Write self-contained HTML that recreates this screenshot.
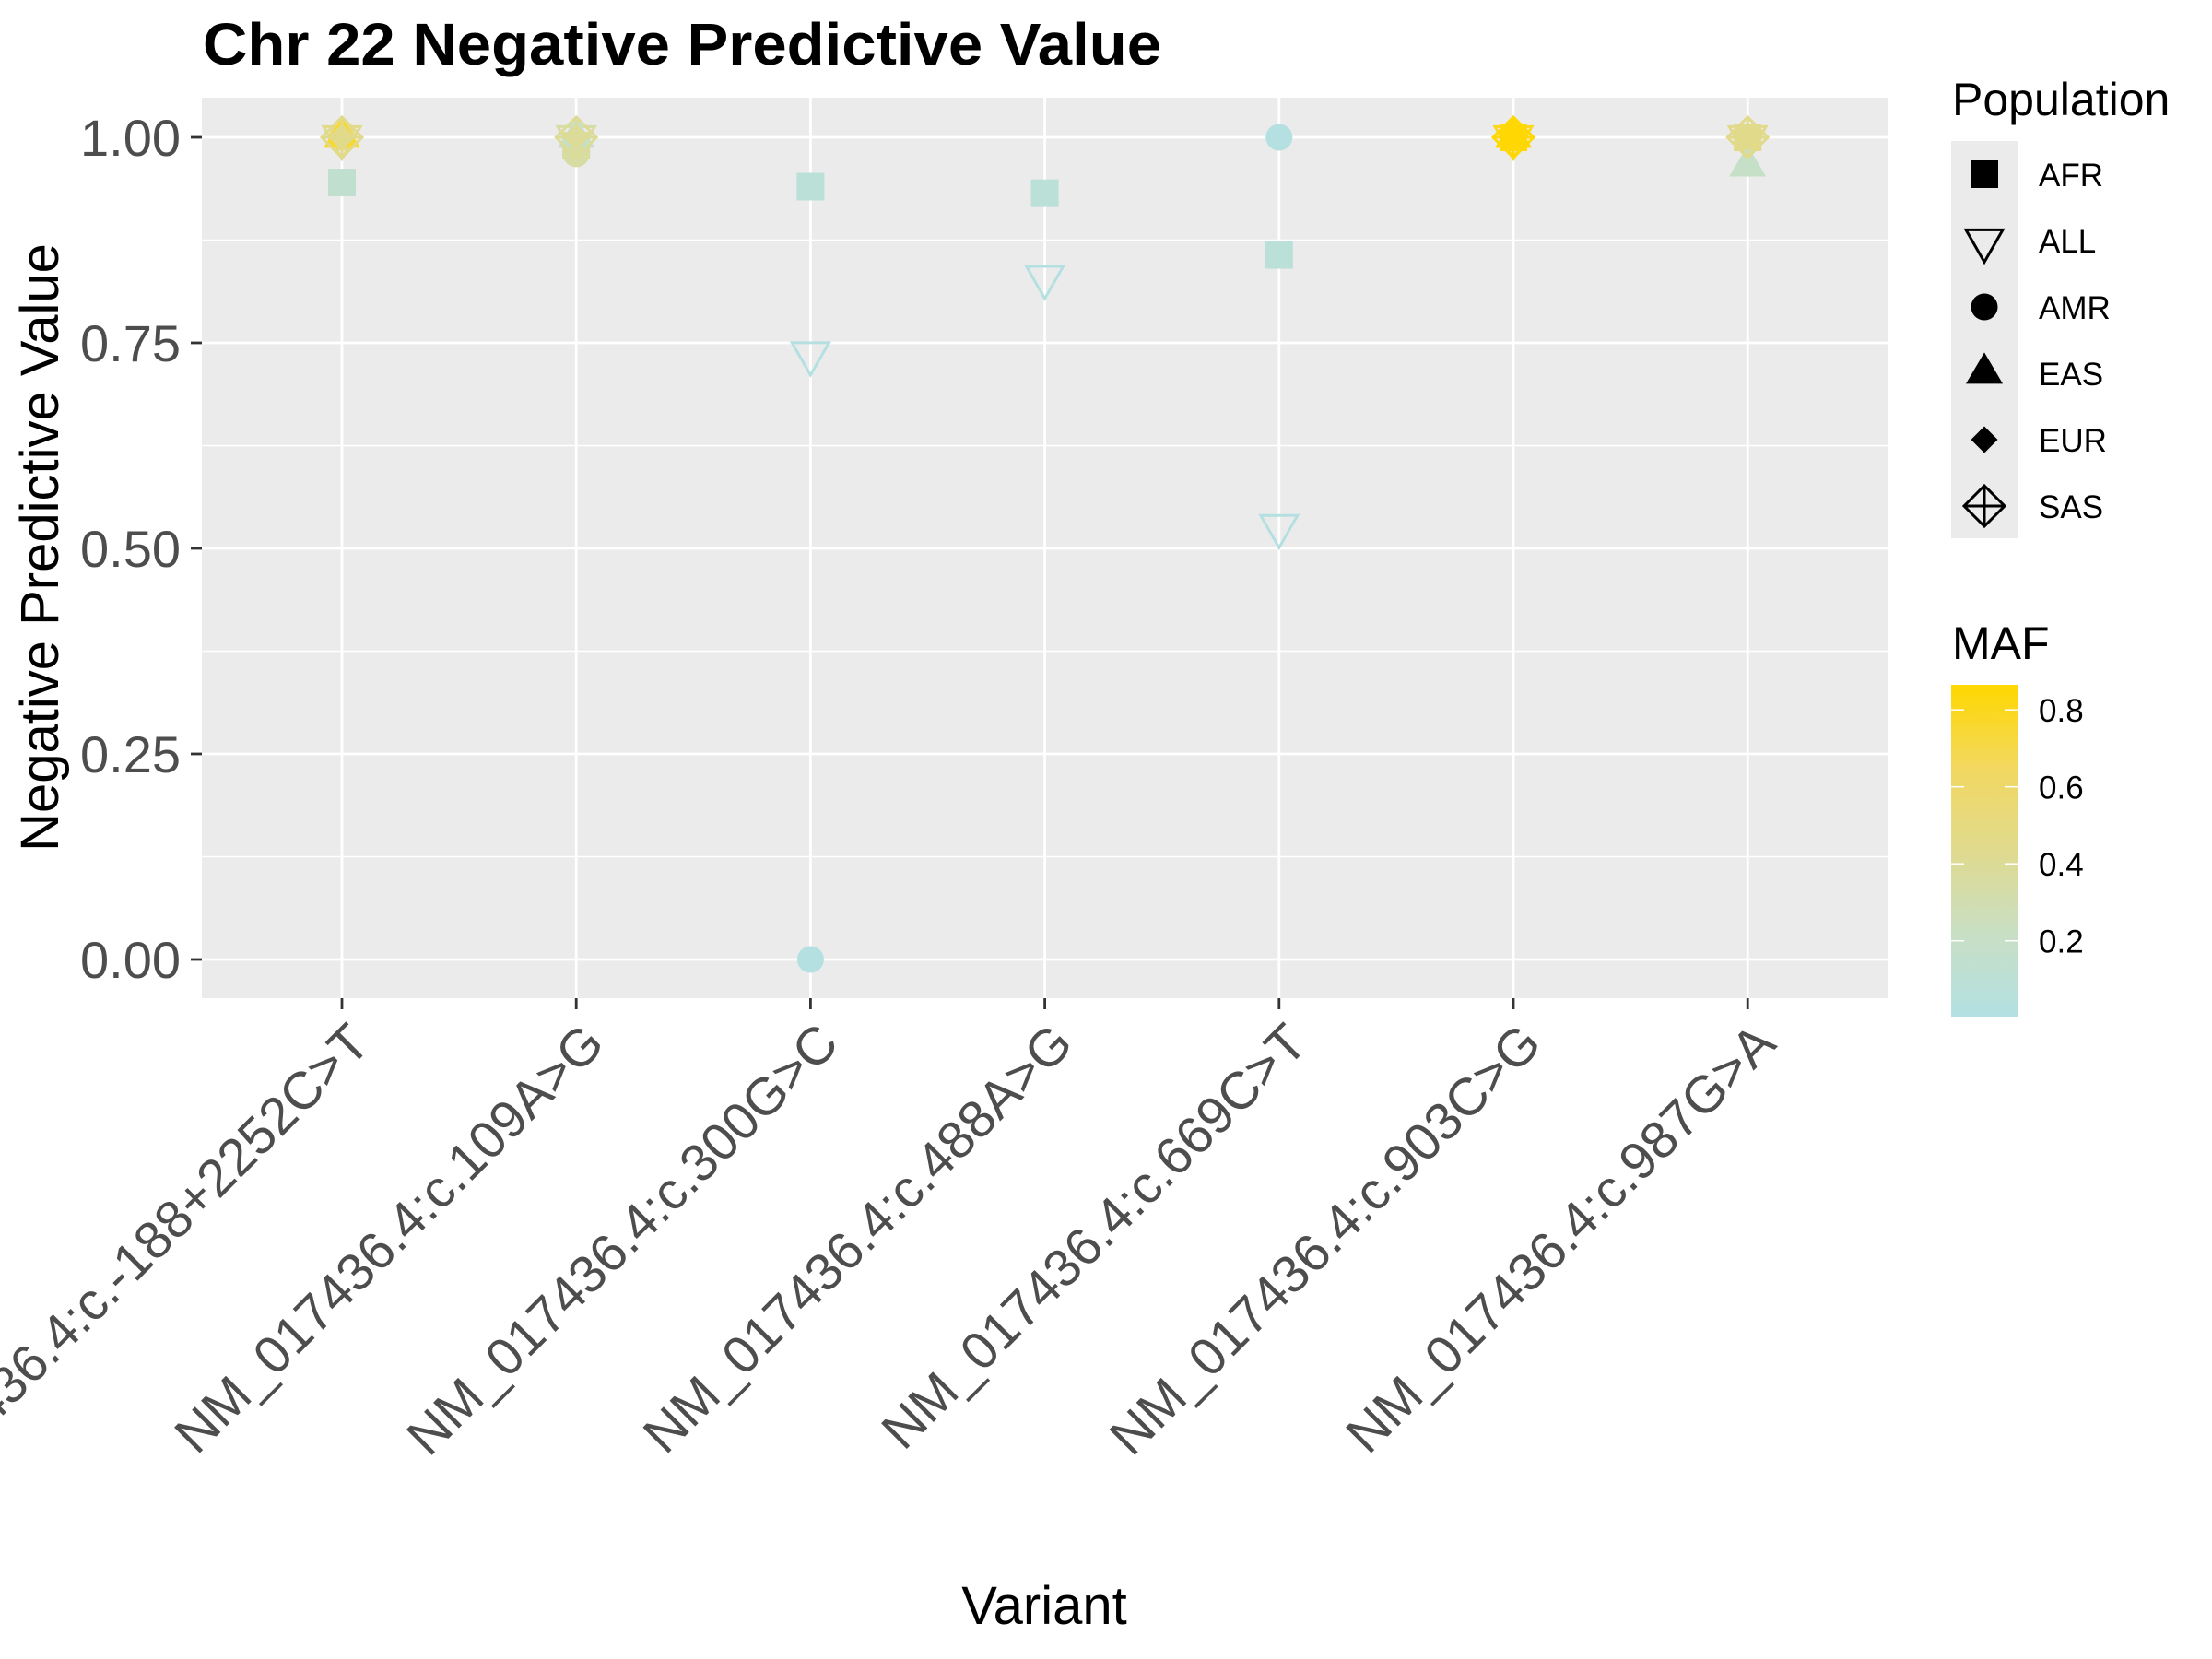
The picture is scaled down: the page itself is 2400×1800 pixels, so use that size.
<!DOCTYPE html>
<html><head><meta charset="utf-8"><style>
html,body{margin:0;padding:0;background:#fff;}
svg{display:block;font-family:"Liberation Sans",sans-serif;}
</style></head><body>
<svg id="chart" width="2400" height="1800" viewBox="0 0 2400 1800" xmlns="http://www.w3.org/2000/svg">
<defs>
<linearGradient id="mafgrad" x1="0" y1="1" x2="0" y2="0">
<stop offset="0" stop-color="#B3E0E3"/>
<stop offset="0.25" stop-color="#C8DFC4"/>
<stop offset="0.5" stop-color="#E0DA8E"/>
<stop offset="0.75" stop-color="#F2D860"/>
<stop offset="1" stop-color="#FFD700"/>
</linearGradient>
</defs>
<text x="220" y="70" font-size="64" font-weight="bold" fill="#000" textLength="1040" lengthAdjust="spacingAndGlyphs">Chr 22 Negative Predictive Value</text>
<rect x="219" y="106" width="1829" height="977" fill="#EBEBEB"/>
<g id="grid"></g>
<g id="yaxis"></g>
<g id="xaxis"></g>
<g id="points"></g>
<text transform="translate(63,594) rotate(-90)" text-anchor="middle" font-size="58" fill="#000">Negative Predictive Value</text>
<text x="1133" y="1762" text-anchor="middle" font-size="58" fill="#000">Variant</text>
<g id="legend">
<text x="2118" y="125" font-size="50" fill="#000">Population</text>
<rect x="2117" y="153" width="72" height="431" fill="#EBEBEB"/>
</g>
<g id="maflegend">
<text x="2118" y="715" font-size="50" fill="#000">MAF</text>
<rect x="2117" y="743" width="72" height="360" fill="url(#mafgrad)"/>
</g>
</svg>
<script>
const categories = ["NM_017436.4:c.-188+2252C>T","NM_017436.4:c.109A>G","NM_017436.4:c.300G>C","NM_017436.4:c.488A>G","NM_017436.4:c.669C>T","NM_017436.4:c.903C>G","NM_017436.4:c.987G>A"];
const populations = ["AFR","ALL","AMR","EAS","EUR","SAS"];
const yTicks = [0,0.25,0.5,0.75,1];
const yTickLabels = ["0.00","0.25","0.50","0.75","1.00"];
const npvAFR = [0.945,0.99,0.94,0.932,0.857,1,1];
const npvALL = [1,1,0.737,0.83,0.527,1,1];
const npvAMR = [1,0.98,0,null,1,1,1];
const npvEAS = [1,1,null,null,null,1,0.965];
const npvEUR = [1,1,null,null,null,1,1];
const npvSAS = [1,1,null,null,null,1,1];
const mafAFR = [0.15,0.45,0.08,0.08,0.08,0.86,0.45];
const mafALL = [0.45,0.35,0.02,0.02,0.02,0.8,0.45];
const mafAMR = [0.5,0.35,0.01,null,0.01,0.86,0.45];
const mafEAS = [0.75,0.2,null,null,null,0.86,0.2];
const mafEUR = [0.45,0.4,null,null,null,0.86,0.45];
const mafSAS = [0.45,0.4,null,null,null,0.86,0.45];
const mafTicks = [0.2,0.4,0.6,0.8];
const mafTickLabels = ["0.2","0.4","0.6","0.8"];

const NS="http://www.w3.org/2000/svg";
const P={l:219,r:2048,t:106,b:1083};
function xPos(i){return 371+i*254.2;}
function yPos(v){return 1041-892*v;}
const mafMin=0.003,mafMax=0.865;
function mafY(m){return 1103-(m-mafMin)/(mafMax-mafMin)*360;}
const stops=[[0,[179,224,227]],[0.25,[200,223,196]],[0.5,[224,218,142]],[0.75,[242,216,96]],[1,[255,215,0]]];
function mafColor(m){let t=(m-mafMin)/(mafMax-mafMin);t=Math.max(0,Math.min(1,t));
 for(let i=1;i<stops.length;i++){if(t<=stops[i][0]){const a=stops[i-1],b=stops[i];const f=(t-a[0])/(b[0]-a[0]);
 const c=a[1].map((v,k)=>Math.round(v+(b[1][k]-v)*f));return `rgb(${c[0]},${c[1]},${c[2]})`;}}return "rgb(255,215,0)";}
function mk(tag,attrs,parent){const e=document.createElementNS(NS,tag);for(const k in attrs)e.setAttribute(k,attrs[k]);parent.appendChild(e);return e;}

const grid=document.getElementById('grid');
for(let i=0;i<yTicks.length-1;i++){const v=(yTicks[i]+yTicks[i+1])/2;
 const l=mk('line',{x1:P.l,x2:P.r,y1:yPos(v),y2:yPos(v),stroke:'#fff','stroke-width':1.4},grid);
 
 }
yTicks.forEach((v)=>{const l=mk('line',{x1:P.l,x2:P.r,y1:yPos(v),y2:yPos(v),stroke:'#fff','stroke-width':2.8},grid);
 
 });
categories.forEach((c,i)=>{const l=mk('line',{x1:xPos(i),x2:xPos(i),y1:P.t,y2:P.b,stroke:'#fff','stroke-width':2.8},grid);
 
 });

const ya=document.getElementById('yaxis');
yTicks.forEach((v,i)=>{const y=yPos(v);
 const t=mk('line',{x1:207,x2:219,y1:y,y2:y,stroke:'#333','stroke-width':2.8},ya);
 
 
 const tx=mk('text',{x:196,y:y+20,'text-anchor':'end','font-size':56,fill:'#4D4D4D'},ya);
 tx.textContent=yTickLabels[i];
 
 });

const xa=document.getElementById('xaxis');
categories.forEach((c,i)=>{const x=xPos(i);
 const t=mk('line',{x1:x,x2:x,y1:P.b,y2:P.b+12,stroke:'#333','stroke-width':2.8},xa);
 
 
 const tx=mk('text',{transform:`translate(${x+4},1106) rotate(-45)`,'text-anchor':'end','font-size':57,fill:'#4D4D4D',dy:'0.72em'},xa);
 tx.textContent=c;
 
 });

function shape(pop,cx,cy,col,parent,scale){scale=scale||1;let e;
 if(pop==='AFR'){const s=15*scale;e=mk('rect',{x:cx-s,y:cy-s,width:2*s,height:2*s,fill:col},parent);}
 else if(pop==='ALL'){const w=20*scale,h=35*scale;e=mk('polygon',{points:`${cx-w},${cy-h/3} ${cx+w},${cy-h/3} ${cx},${cy+2*h/3}`,fill:'none',stroke:col,'stroke-width':3},parent);}
 else if(pop==='AMR'){e=mk('circle',{cx:cx,cy:cy,r:14.5*scale,fill:col},parent);}
 else if(pop==='EAS'){const w=20*scale,h=34*scale;e=mk('polygon',{points:`${cx-w},${cy+h/3} ${cx+w},${cy+h/3} ${cx},${cy-2*h/3}`,fill:col},parent);}
 else if(pop==='EUR'){const s=14.5*scale;e=mk('polygon',{points:`${cx},${cy-s} ${cx+s},${cy} ${cx},${cy+s} ${cx-s},${cy}`,fill:col},parent);}
 else {const s=22*scale;e=mk('path',{d:`M${cx},${cy-s}L${cx+s},${cy}L${cx},${cy+s}L${cx-s},${cy}Z M${cx-s},${cy}H${cx+s} M${cx},${cy-s}V${cy+s}`,fill:'none',stroke:col,'stroke-width':3},parent);}
 return e;}

const npv={AFR:npvAFR,ALL:npvALL,AMR:npvAMR,EAS:npvEAS,EUR:npvEUR,SAS:npvSAS};
const maf={AFR:mafAFR,ALL:mafALL,AMR:mafAMR,EAS:mafEAS,EUR:mafEUR,SAS:mafSAS};
const pts=document.getElementById('points');
populations.forEach(pop=>{categories.forEach((c,i)=>{const v=npv[pop][i];if(v===null||v===undefined)return;
 const e=shape(pop,xPos(i),yPos(v),mafColor(maf[pop][i]),pts);
 
 });});

const lg=document.getElementById('legend');
populations.forEach((pop,i)=>{const cy=189+72*i;
 const e=shape(pop,2153,cy,'#000',lg);
 
 
 const t=mk('text',{x:2212,y:cy+13,'font-size':35,fill:'#000'},lg);
 t.textContent=pop;
 
 });

const ml=document.getElementById('maflegend');
mafTicks.forEach((m,i)=>{const y=mafY(m);
 const a=mk('line',{x1:2117,x2:2131,y1:y,y2:y,stroke:'#fff','stroke-width':1.5},ml);
 
 
 const b=mk('line',{x1:2175,x2:2189,y1:y,y2:y,stroke:'#fff','stroke-width':1.5},ml);
 
 
 const t=mk('text',{x:2212,y:y+13,'font-size':35,fill:'#000'},ml);
 t.textContent=mafTickLabels[i];
 
 });
</script>
</body></html>
